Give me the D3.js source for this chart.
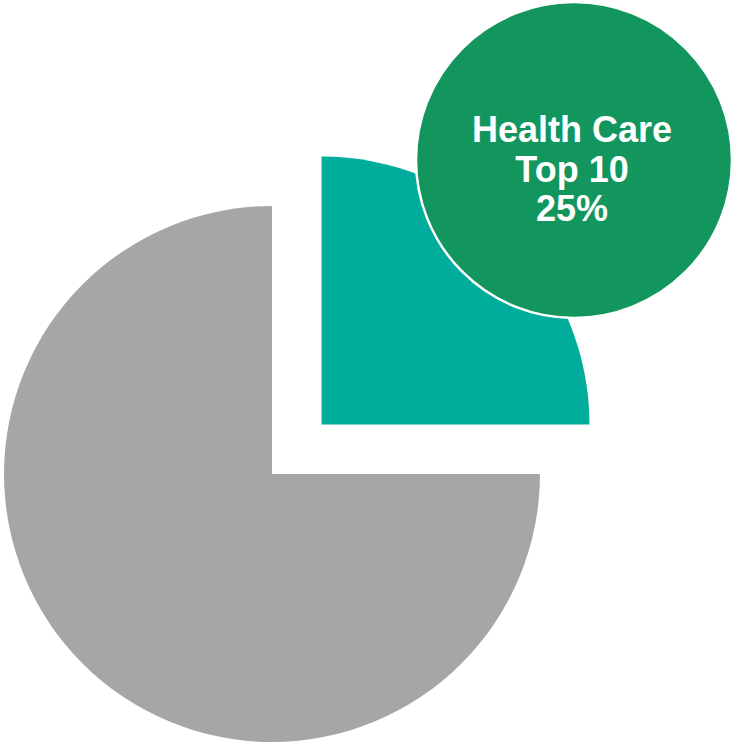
<!DOCTYPE html>
<html>
<head>
<meta charset="utf-8">
<script src="https://cdn.jsdelivr.net/npm/d3@7"></script>
<style>
  html, body { margin: 0; padding: 0; background: #ffffff; }
  svg { display: block; }
</style>
</head>
<body>
<svg id="chart" width="739" height="745"></svg>
<script>
// Share of the sector held by the top 10 vs. the rest
const categories = ["Health Care Top 10", "Other"];
const shares = [25, 75];
const sliceColors = ["#00AD9C", "#A6A6A6"];
const calloutLines = ["Health Care", "Top 10", "25%"];

const svg = d3.select("#chart");
const cx = 272, cy = 474, radius = 268;
const explode = 70;

const pie = d3.pie().sort(null).value(d => d)(shares);
const arc = d3.arc().innerRadius(0).outerRadius(radius);

const g = svg.append("g").attr("transform", `translate(${cx},${cy})`);

g.selectAll("path")
  .data(pie)
  .join("path")
  .attr("d", arc)
  .attr("fill", (d, i) => sliceColors[i])
  .attr("transform", (d, i) => {
    if (i !== 0) return null;
    const mid = (d.startAngle + d.endAngle) / 2;
    return `translate(${Math.sin(mid) * explode},${-Math.cos(mid) * explode})`;
  });

// Callout bubble for the highlighted slice
const bubble = svg.append("g").attr("transform", "translate(574,160)");
bubble.append("circle")
  .attr("r", 158)
  .attr("fill", "#13965E")
  .attr("stroke", "#ffffff")
  .attr("stroke-width", 2.5);

bubble.append("text")
  .attr("text-anchor", "middle")
  .attr("font-family", "'Liberation Sans', Arial, sans-serif")
  .attr("font-weight", "bold")
  .attr("font-size", 36)
  .attr("fill", "#ffffff")
  .selectAll("tspan")
  .data(calloutLines)
  .join("tspan")
  .attr("x", -2)
  .attr("y", (d, i) => -18 + i * 39.5)
  .text(d => d);
</script>
</body>
</html>
